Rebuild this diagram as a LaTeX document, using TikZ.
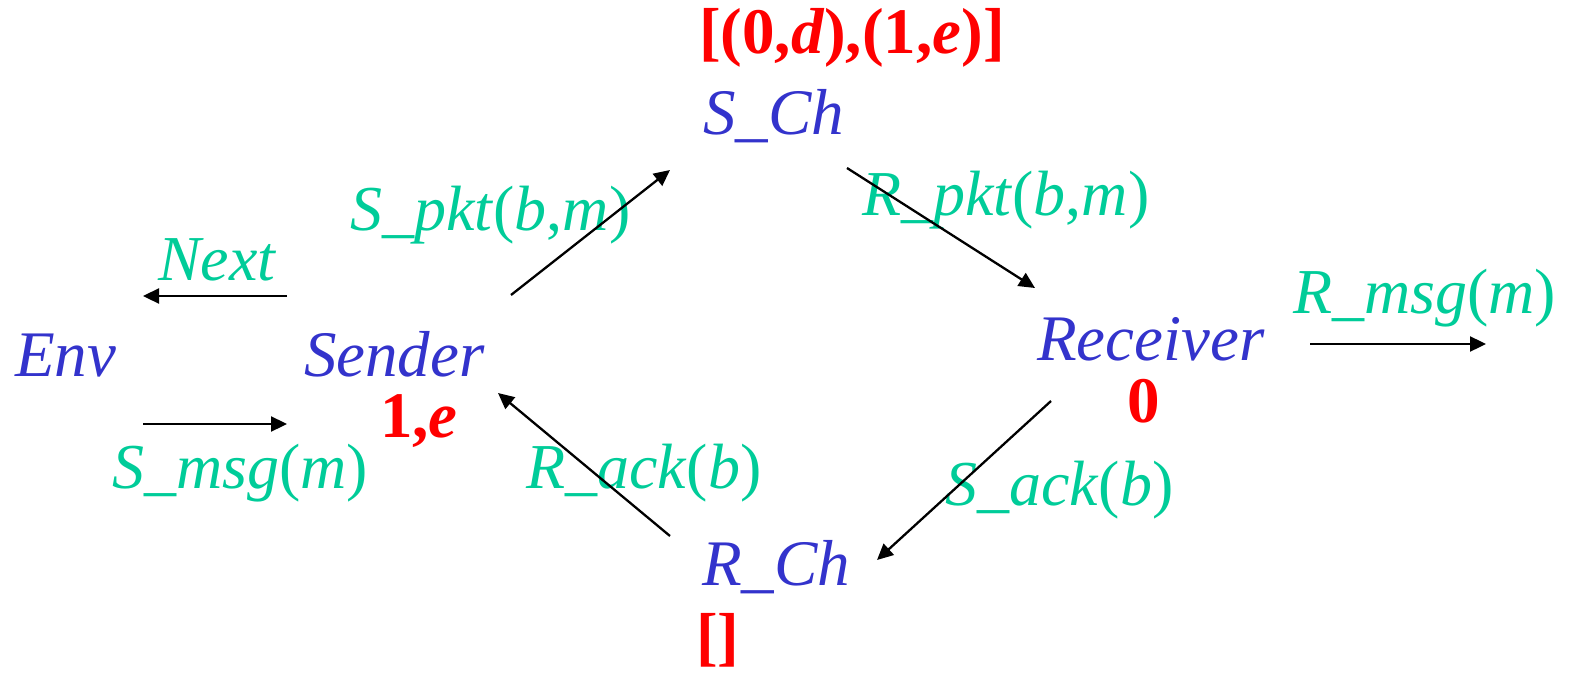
\documentclass[tikz,border=0pt]{standalone}
\usepackage{fontspec}
\setmainfont{Liberation Serif}
\usetikzlibrary{arrows.meta}
\definecolor{nblue}{RGB}{51,51,204}
\definecolor{lgreen}{RGB}{0,204,153}
\definecolor{sred}{RGB}{255,0,0}
\begin{document}
\begin{tikzpicture}[x=1pt,y=-1pt,
  every node/.style={inner sep=0pt,outer sep=0pt,anchor=base west},
  proc/.style={text=nblue,font=\fontsize{65}{72}\selectfont\itshape},
  act/.style={text=lgreen,font=\fontsize{64}{72}\selectfont},
  st/.style={text=sred,font=\fontsize{65}{72}\selectfont\bfseries},
  arr/.style={-{Triangle[length=16pt,width=15pt]},line width=2.3pt,black}]
\useasboundingbox (0,0) rectangle (1570,674);
% processes
\node[proc] (env) at (15,376) {Env};
\node[proc] (sender) at (304,376) {Sender};
\node[proc] (sch) at (703,135) {S\_Ch};
\node[proc] (rch) at (702,585) {R\_Ch};
\node[proc] (recv) at (1037,360) {Receiver};
% states
\node[st] (sstate) at (380,437) {1,\textit{e}};
\node[st] (schstate) at (699,54) {[(0,\textit{d}),(1,\textit{e})]};
\node[st] (rstate) at (1127,422) {0};
\node[st] (rchstate) at (696,658) {[]};
% actions
\node[act] (next) at (158,280) {\textit{Next}};
\node[act] (smsg) at (112,488) {\textit{S\_msg}(\textit{m})};
\node[act] (spkt) at (350,230) {\textit{S\_pkt}(\textit{b},\textit{m})};
\node[act] (rpkt) at (862,215) {\textit{R\_pkt}(\textit{b},\textit{m})};
\node[act] (rmsg) at (1293,313) {\textit{R\_msg}(\textit{m})};
\node[act] (sack) at (945,505) {\textit{S\_ack}(\textit{b})};
\node[act] (rack) at (526,488) {\textit{R\_ack}(\textit{b})};
% connector end points
\coordinate (n1) at (287,296); \coordinate (n2) at (143,296);
\coordinate (m1) at (143,424); \coordinate (m2) at (287,424);
\coordinate (p1) at (511,295); \coordinate (p2) at (670,170);
\coordinate (q1) at (847,168); \coordinate (q2) at (1035,288);
\coordinate (r1) at (1310,344); \coordinate (r2) at (1486,344);
\coordinate (a1) at (1051,401); \coordinate (a2) at (877,560);
\coordinate (b1) at (670,536); \coordinate (b2) at (498,393);
\draw[arr] (n1) -- (n2);
\draw[arr] (m1) -- (m2);
\draw[arr] (p1) -- (p2);
\draw[arr] (q1) -- (q2);
\draw[arr] (r1) -- (r2);
\draw[arr] (a1) -- (a2);
\draw[arr] (b1) -- (b2);
\end{tikzpicture}
\end{document}
